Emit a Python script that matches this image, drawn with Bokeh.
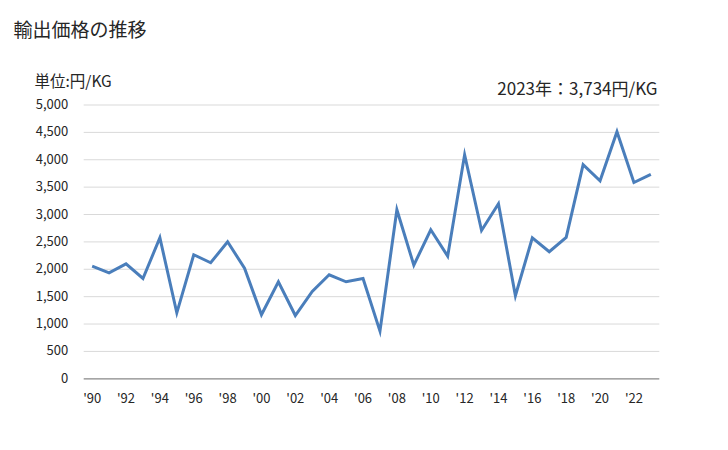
from bokeh.plotting import figure
from bokeh.models import Label, Range1d, ColumnDataSource
from bokeh.core.properties import value
from bokeh.embed import file_html
from bokeh.resources import INLINE

years = list(range(1990, 2024))
values = [2057, 1936, 2100, 1832, 2575, 1205, 2265, 2119, 2502, 2020,
          1169, 1772, 1156, 1595, 1900, 1772, 1832, 870, 3087, 2075,
          2721, 2240, 4091, 2709, 3196, 1516, 2575, 2320, 2581, 3909,
          3616, 4511, 3585, 3734]
x_ticks = list(range(1990, 2023, 2))
x_labels = ["'" + str(y)[2:] for y in x_ticks]
y_ticks = list(range(0, 5001, 500))
y_labels = [f"{v:,}" for v in y_ticks]

FONT = "Noto Sans CJK JP"
W, H = 728, 450

# plot-area geometry in canvas pixels
PL, PR = 83.2, 658.8      # left / right edge of plotting area
PB, PT = 378.3, 104.5     # y of value 0 / value 5000
x0, x1 = years[0] - 0.5, years[-1] + 0.5
ymax = y_ticks[-1]
px_per_year = (PR - PL) / (x1 - x0)
px_per_val = (PB - PT) / ymax
xr = Range1d(x0 - PL / px_per_year, x1 + (W - PR) / px_per_year)
yr = Range1d(-(H - PB) / px_per_val, PB / px_per_val)

p = figure(width=W, height=H, output_backend="svg", toolbar_location=None,
           x_range=xr, y_range=yr, x_axis_location=None, y_axis_location=None,
           min_border=0)
p.outline_line_color = None
p.grid.visible = False
p.background_fill_color = "white"
p.border_fill_color = "white"

# horizontal gridlines
grid = ColumnDataSource(dict(y=y_ticks[1:]))
p.segment(x0=x0, y0="y", x1=x1, y1="y", source=grid,
          line_color="#d9d9d9", line_width=1)
# category axis line
p.segment(x0=[x0], y0=[0], x1=[x1], y1=[0], line_color="#878787", line_width=1.2)

# data line
p.line(years, values, line_color="#4a7ebb", line_width=3, line_join="miter")

# y tick labels
ysrc = ColumnDataSource(dict(x=[x0] * len(y_ticks), y=y_ticks, t=y_labels))
p.text(x="x", y="y", text="t", source=ysrc, x_offset=-15.5, y_offset=-1,
       text_align="right", text_baseline="middle", text_font=value(FONT),
       text_font_size="13px", text_color="#262626")

# x tick labels
xsrc = ColumnDataSource(dict(x=x_ticks, y=[0] * len(x_ticks), t=x_labels))
p.text(x="x", y="y", text="t", source=xsrc, y_offset=19,
       text_align="center", text_baseline="middle", text_font=value(FONT),
       text_font_size="13px", text_color="#262626")

title = Label(x=13, y=H - 28, x_units="screen", y_units="screen",
              text="輸出価格の推移", text_font=FONT, text_font_size="19px",
              text_color="#262626", text_baseline="middle", text_align="left")
unit = Label(x=34, y=H - 79, x_units="screen", y_units="screen",
             text="単位:円/KG", text_font=FONT, text_font_size="15.5px",
             text_color="#262626", text_baseline="middle", text_align="left")
note = Label(x=657, y=H - 87, x_units="screen", y_units="screen",
             text="2023年：3,734円/KG", text_font=FONT, text_font_size="17px",
             text_color="#262626", text_baseline="middle", text_align="right")
for lab in (title, unit, note):
    p.add_layout(lab)

open("out.html", "w").write(file_html(p, INLINE))
